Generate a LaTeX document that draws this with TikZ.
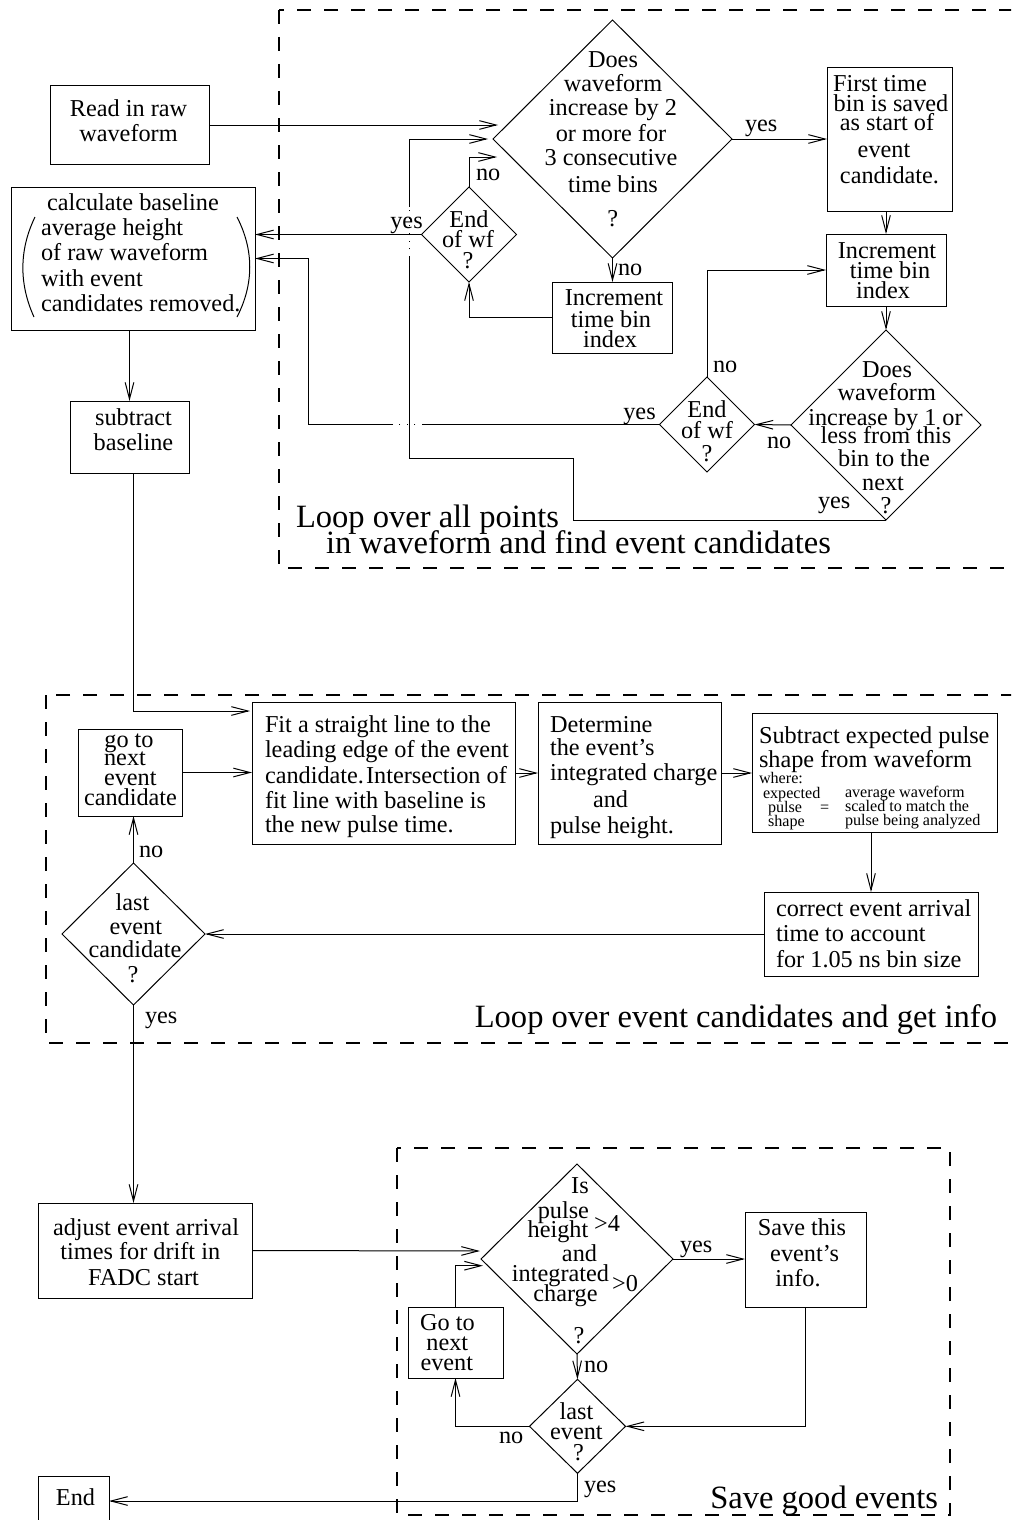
\documentclass[tikz,border=0pt]{standalone}
\usepackage{fontspec}
\setmainfont{Liberation Serif}
\usetikzlibrary{arrows.meta,shapes.geometric,calc}
\newcommand\mainf{\fontsize{18.2pt}{20pt}\selectfont}
\newcommand\titf{\fontsize{24.4pt}{26pt}\selectfont}
\newcommand\smallf{\fontsize{12.1pt}{13pt}\selectfont}
\newcommand\tlines[3]{%
  \foreach \xx/\yy/\mytxt [count=\cnt] in {#3}{%
    \node[t,#2] (#1-\cnt) at (\xx,\yy) {\mytxt};}}
\tikzset{
  t/.style={inner sep=0pt, outer sep=0pt, font=\mainf},
  box/.style 2 args={draw, rectangle, line width=0.75pt, minimum width=#1*0.75pt, minimum height=#2*0.75pt, inner sep=0pt, outer sep=0pt},
  dia/.style 2 args={draw, diamond, line width=0.75pt, minimum width=#1*0.75pt, minimum height=#2*0.75pt, inner sep=0pt, outer sep=0pt},
  ln/.style={line width=0.75pt},
  arr/.style={ln, -{Straight Barb[length=12.5pt,width=6.5pt]}},
  dot/.style={ln, dash pattern=on 0.75pt off 5pt},
  frame/.style={line width=1.6pt, dash pattern=on 10.5pt off 9.75pt},
}
\begin{document}
\begin{tikzpicture}[x=0.75pt,y=-0.75pt]
\useasboundingbox (0,0) rectangle (1011,1520);
\clip (0,0) rectangle (1011,1520);
\fill[white] (0,0) rectangle (1011,1520);

% dashed frames
\draw[frame] (279,10) rectangle (1060,568);
\draw[frame] (46,695) rectangle (1060,1043);
\draw[frame] (397,1148) rectangle (950,1515);

\node[t,font=\titf,anchor=base west] (ttl1a) at (296,527) {Loop over all points};
\node[t,font=\titf,anchor=base west] (ttl1b) at (326,553) {in waveform and find event candidates};
\node[t,font=\titf,anchor=base east] (ttl2) at (997,1027) {Loop over event candidates and get info};
\node[t,font=\titf,anchor=base east] (ttl3) at (938,1508) {Save good events};

% boxes
\node[box={159}{79}] (read) at (129.5,125) {};
\node[box={244}{143}] (calc) at (133,258.5) {};
\node[box={119}{72}] (sub) at (129.5,437) {};
\node[box={125}{143}] (first) at (889.5,139.5) {};
\node[box={120}{72}] (incr2) at (886,270) {};
\node[box={120}{71}] (incr1) at (612,317.5) {};
\node[box={104}{87}] (go) at (130,772.5) {};
\node[box={263}{142}] (fit) at (383.5,773) {};
\node[box={183}{142}] (det) at (629.5,773) {};
\node[box={245}{119}] (sube) at (874.5,772.5) {};
\node[box={214}{84}] (cor) at (871,934) {};
\node[box={214}{95}] (adj) at (145,1250.5) {};
\node[box={95}{71}] (go2) at (455.5,1342.5) {};
\node[box={121}{95}] (save) at (805.5,1259.5) {};
\node[box={71}{50}] (end) at (73.5,1501) {};

% diamonds
\node[dia={239}{238}] (d1) at (612.5,139) {};
\node[dia={95}{95}] (e1) at (469,234.5) {};
\node[dia={95}{95}] (e2) at (707,424.5) {};
\node[dia={190}{190}] (d3) at (886,425) {};
\node[dia={143}{142}] (lec) at (133.5,934) {};
\node[dia={192}{190}] (is) at (577,1259) {};
\node[dia={96}{94}] (le) at (577.5,1426.3) {};

% texts
\tlines{readT}{anchor=base}{128.5/116/Read in raw, 128.5/142/waveform}
\tlines{calcT}{anchor=base west}{47/210.5/calculate baseline, 41/235/average height, 41/260/of raw waveform, 41/286/with event, 41/311.5/candidates removed.}
\draw[ln] (35,217) .. controls (19,250) and (19,284) .. (34,317);
\draw[ln] (237,217) .. controls (254,250) and (254,284) .. (237,317);
\tlines{subT}{anchor=base}{133.5/425/subtract, 133.5/450/baseline}
\tlines{d1T}{anchor=base}{613/68/Does, 613/91.7/waveform, 613/115/increase by 2, 611/141.7/or more for, 611/165/3 consecutive, 613/192.7/time bins, 612.7/226.7/?}
\tlines{firstT}{anchor=base}{880/92/First time, 891/112/bin is saved, 887/130/as start of, 884/157/event, 889.5/183/candidate.}
\tlines{incr2T}{anchor=base}{887/258/Increment, 890/278/time bin, 883/298/index}
\tlines{incr1T}{anchor=base}{614/305/Increment, 611/327/time bin, 610/347/index}
\tlines{e1T}{anchor=base}{469/227/End, 468/247/of wf, 468/268/?}
\tlines{e2T}{anchor=base}{707/417/End, 707/438/of wf, 707/461/?}
\tlines{d3T}{anchor=base}{887/377/Does, 886.7/400/waveform, 885.5/425/increase by 1 or, 886/443.3/less from this, 884/466.7/bin to the, 883/490/next, 886/513.3/?}
\tlines{goT}{anchor=base}{129/747/go to, 125/765/next, 130.3/785/event, 130.5/805/candidate}
\tlines{fitT}{anchor=base west}{265/732/Fit a straight line to the, 265/757/leading edge of the event, 265/783/candidate.\kern1.5pt Intersection of, 265/808/fit line with baseline is, 265/832/the new pulse time.}
\tlines{detT}{anchor=base west}{550/732/Determine, 550/755/the event's, 550/780/integrated charge, 593/807/and, 550/833/pulse height.}
\tlines{subeT}{anchor=base west}{759/743/Subtract expected pulse, 759/767/shape from waveform}
\tlines{subeS}{anchor=base west,font=\smallf}{759/783/where:, 763/798/expected, 768/812.7/pulse, 768/826.7/shape, 820/812.7/=, 845/797/average waveform, 845/811.7/scaled to match the, 845/825/pulse being analyzed}
\tlines{corT}{anchor=base west}{776/916/correct event arrival, 776/941/time to account, 776/967/for 1.05 ns bin size}
\tlines{lecT}{anchor=base}{132.5/910/last, 135.8/934/event, 135/957/candidate, 133/982/?}
\tlines{adjT}{anchor=base}{146/1235/adjust event arrival, 140.3/1259/times for drift in, 143.5/1285/FADC start}
\tlines{go2T}{anchor=base}{447.5/1330/Go to, 447.3/1350/next, 446.8/1370/event}
\tlines{isT}{anchor=base}{580/1193/Is, 563.4/1218/pulse, 558/1237/height, 607/1231/>4, 579.5/1261.7/and, 560.5/1281.7/integrated, 565.5/1301/charge, 625/1291/>0, 579/1343/?}
\tlines{saveT}{anchor=base}{802/1235/Save this, 804.6/1261.7/event's, 798/1286.7/info.}
\tlines{leT}{anchor=base}{576.5/1419.3/last, 576.4/1439.3/event, 578.5/1460/?}
\node[t,anchor=base] (endT) at (75.5,1505) {End};

% yes / no labels
\node[t,anchor=base west] (lb1) at (745,131) {yes};
\node[t,anchor=base west] (lb2) at (618,275) {no};
\node[t,anchor=base west] (lb3) at (476,180) {no};
\node[t,anchor=base east] (lb4) at (422.7,228) {yes};
\node[t,anchor=base west] (lb5) at (713,372) {no};
\node[t,anchor=base east] (lb6) at (655.7,419) {yes};
\node[t,anchor=base west] (lb7) at (767,448) {no};
\node[t,anchor=base west] (lb8) at (818,508) {yes};
\node[t,anchor=base west] (lb9) at (139,857) {no};
\node[t,anchor=base west] (lb10) at (145,1023) {yes};
\node[t,anchor=base west] (lb11) at (680,1252) {yes};
\node[t,anchor=base west] (lb12) at (584,1372) {no};
\node[t,anchor=base west] (lb13) at (499,1443) {no};
\node[t,anchor=base west] (lb14) at (584,1492) {yes};

% connectors, upper loop
\coordinate (p1) at (498,125);
\draw[arr] (read.east) -- (p1);
\draw[arr] (d1.east) -- (d1.east -| first.west);
\draw[arr] (first.south -| incr2.north) -- (incr2.north);
\draw[arr] (incr2.south) -- (d3.north);
\draw[arr] (d3.west) -- (e2.east);
\draw[arr] (e2.north) |- (incr2.west);
\coordinate (q1) at (423,424.5);
\coordinate (q2) at (393,424.5);
\coordinate (q3) at (308,258.5);
\draw[ln] (e2.west) -- (q1);
\draw[dot] (q1) -- (q2);
\draw[arr] (q2) -| (q3) -- (calc.east);
\coordinate (r1) at (573,458);
\coordinate (r2) at (409,458);
\coordinate (r3) at (409,257);
\coordinate (r4) at (409,207);
\coordinate (r5) at (409,139);
\coordinate (r6) at (488,139);
\draw[ln] (d3.south) -| (r1) -- (r2) -- (r3);
\draw[dot] (r3) -- (r4);
\draw[arr] (r4) -- (r5) -- (r6);
\draw[arr] (d1.south) -- (d1.south |- incr1.north);
\draw[arr] (incr1.west) -| (e1.south);
\coordinate (s1) at (497,157);
\draw[arr] (e1.north) |- (s1);
\draw[arr] (e1.west) -- (e1.west -| calc.east);
\draw[arr] (sub.north |- calc.south) -- (sub.north);

% middle loop
\coordinate (u1) at (133,473);
\coordinate (u2) at (250,711);
\draw[arr] (u1) |- (u2);
\draw[arr] (go.east) -- (go.east -| fit.west);
\draw[arr] (fit.east) -- (fit.east -| det.west);
\draw[arr] (det.east) -- (det.east -| sube.west);
\draw[arr] (sube.south -| cor.north) -- (cor.north);
\draw[arr] (cor.west) -- (cor.west -| lec.east);
\draw[arr] (lec.north) -- (lec.north |- go.south);
\draw[arr] (lec.south) -- (lec.south |- adj.north);

% bottom loop
\coordinate (v1) at (480,1251);
\draw[arr] (adj.east) -- (v1);
\coordinate (v2) at (483,1265.7);
\draw[arr] (go2.north) |- (v2);
\draw[arr] (is.south) -- (le.north);
\draw[arr] (is.east) -- (is.east -| save.west);
\draw[arr] (save.south) |- (le.east);
\draw[arr] (le.west) -| (go2.south);
\draw[arr] (le.south) |- (end.east);
\end{tikzpicture}
\end{document}
